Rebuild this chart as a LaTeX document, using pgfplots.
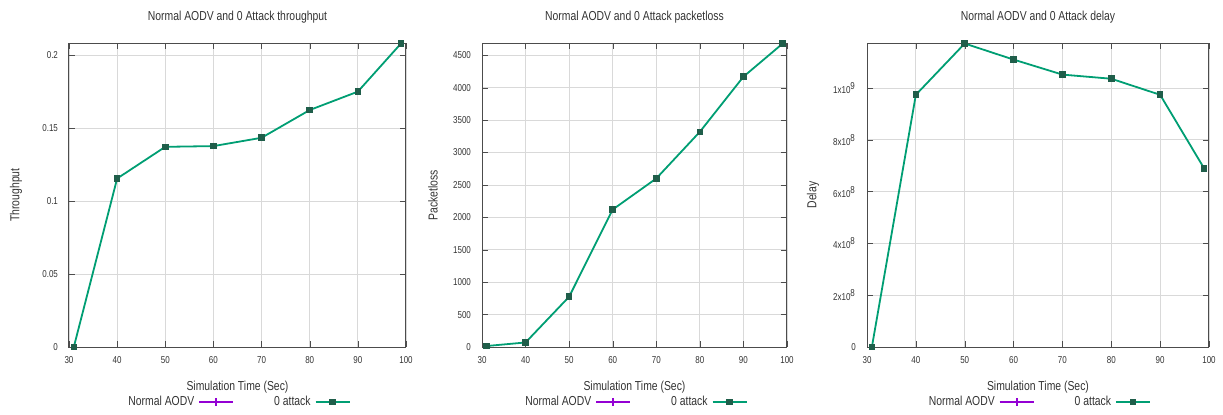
\documentclass[border=0pt]{standalone}
\usepackage{fontspec}
\setmainfont{Liberation Sans}[FakeStretch=0.8]
\usepackage{pgfplots}
\pgfplotsset{compat=1.18}
\definecolor{gpurple}{HTML}{9400D3}
\definecolor{ggreen}{HTML}{009E73}
\definecolor{gdark}{HTML}{1F5E4A}
\pgfplotsset{
  gp/.style={
    scale only axis,
    anchor=south west,
    height=152pt,
    xmin=30, xmax=100,
    xtick={30,40,...,100},
    grid=major,
    major grid style={gray!30, line width=0.4pt},
    axis line style={black!70, line width=0.5pt},
    tick style={black!70},
    major tick length=3pt,
    ticklabel style={font=\fontsize{5}{6}\selectfont, text=black!80},
    xticklabel style={yshift=-1pt},
    yticklabel style={xshift=-2pt},
    /pgf/number format/assume math mode=true,
    scaled y ticks=false,
    every axis title shift=0pt,
    title style={at={(0.5,1)}, anchor=center, yshift=13pt, font=\fontsize{6.5}{7}\selectfont, text=black!80},
    xlabel={Simulation Time (Sec)},
    xlabel style={at={(0.5,0)}, anchor=center, yshift=-20pt, font=\fontsize{6.5}{7}\selectfont, text=black!80},
    ylabel style={anchor=center, font=\fontsize{6.5}{7}\selectfont, text=black!80},
    legend columns=2,
    legend plot pos=right,
    legend style={at={(0.5,0)}, anchor=center, yshift=-27.5pt, draw=none, fill=none,
      font=\fontsize{6.5}{7}\selectfont, text=black!80,
      /tikz/every even column/.append style={column sep=18pt}},
  },
  gl/.style={ggreen, line width=0.9pt, mark=square*, mark size=1.2pt,
    mark options={fill=gdark, draw=gdark}},
}
\begin{document}
\begin{tikzpicture}
\useasboundingbox (0,0) rectangle (611.5pt,-207pt);

% Panel 1: throughput
\begin{axis}[gp, at={(34.5pt,-173.5pt)}, width=168.5pt,
  ymin=0, ymax=0.2082,
  ytick={0,0.05,0.1,0.15,0.2},
  yticklabels={0,0.05,0.1,0.15,0.2},
  title={Normal AODV and 0 Attack throughput},
  ylabel={Throughput},
  ylabel style={at={(axis description cs:-0.157,0.5)}}]
\addlegendimage{gpurple, line width=0.9pt, mark=+, mark size=2pt}
\addlegendentry{Normal AODV}
\addplot[gl] coordinates {(31,0) (40,0.1154) (50,0.1371) (60,0.1376) (70,0.1433) (80,0.1623) (90,0.1749) (99,0.2080)};
\addlegendentry{0 attack}
\end{axis}

% Panel 2: packetloss
\begin{axis}[gp, at={(241pt,-173.5pt)}, width=152.5pt,
  ymin=0, ymax=4690,
  ytick={0,500,...,4500},
  yticklabel style={/pgf/number format/1000 sep={}},
  title={Normal AODV and 0 Attack packetloss},
  ylabel={Packetloss},
  ylabel style={at={(axis description cs:-0.161,0.5)}}]
\addlegendimage{gpurple, line width=0.9pt, mark=+, mark size=2pt}
\addlegendentry{Normal AODV}
\addplot[gl] coordinates {(31,15) (40,70) (50,776) (60,2121) (70,2600) (80,3320) (90,4170) (99,4681)};
\addlegendentry{0 attack}
\end{axis}

% Panel 3: delay
\begin{axis}[gp, at={(433.5pt,-173.5pt)}, width=171pt,
  ymin=0, ymax=1.174e9,
  ytick={0,2e8,4e8,6e8,8e8,1e9},
  yticklabels={0,2x10\textsuperscript{8},4x10\textsuperscript{8},6x10\textsuperscript{8},8x10\textsuperscript{8},1x10\textsuperscript{9}},
  yticklabel style={/pgf/number format/assume math mode=false},
  title={Normal AODV and 0 Attack delay},
  ylabel={Delay},
  ylabel style={at={(axis description cs:-0.158,0.5)}}]
\addlegendimage{gpurple, line width=0.9pt, mark=+, mark size=2pt}
\addlegendentry{Normal AODV}
\addplot[gl] coordinates {(31,0) (40,0.974e9) (50,1.172e9) (60,1.110e9) (70,1.052e9) (80,1.036e9) (90,0.974e9) (99,0.690e9)};
\addlegendentry{0 attack}
\end{axis}
\end{tikzpicture}
\end{document}
